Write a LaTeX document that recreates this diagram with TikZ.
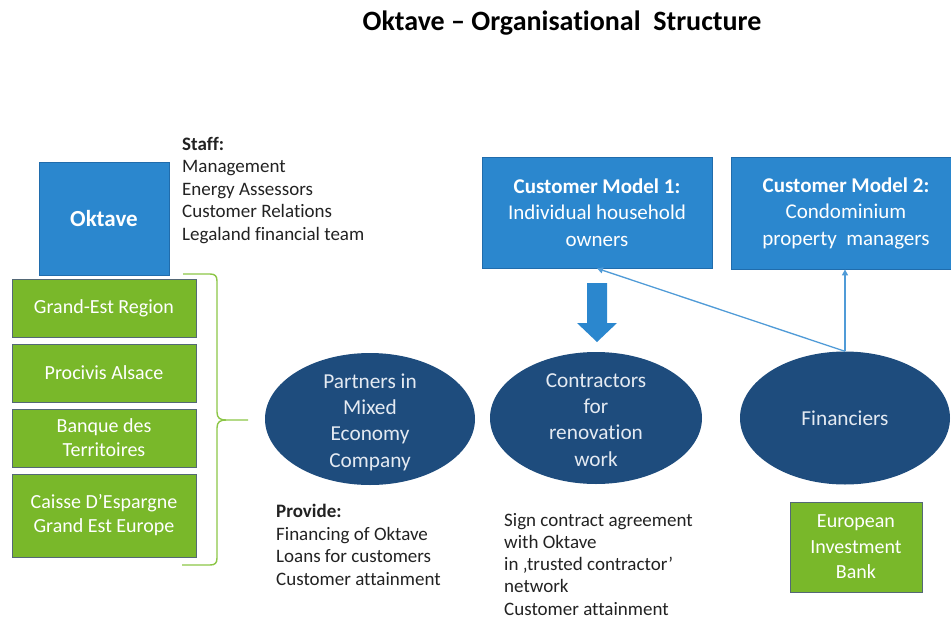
\documentclass[tikz,border=0pt]{standalone}
\usepackage{fontspec}
\setmainfont{Carlito}[Ligatures=NoCommon]
\usetikzlibrary{arrows.meta,shapes.geometric}

\definecolor{okblue}{RGB}{43,135,206}
\definecolor{okblueedge}{RGB}{32,108,172}
\definecolor{navy}{RGB}{30,76,125}
\definecolor{leaf}{RGB}{121,184,42}
\definecolor{leafedge}{RGB}{84,104,118}
\definecolor{bracegreen}{RGB}{140,198,70}
\definecolor{linkblue}{RGB}{80,155,215}
\definecolor{ink}{RGB}{34,34,34}
\definecolor{ovaltext}{RGB}{228,234,242}

\newcommand\fsz[2]{\fontsize{#1}{#2}\selectfont}

\tikzset{
  bluebox/.style={draw=okblueedge, line width=0.8pt, fill=okblue, text=white,
    align=center, inner sep=0pt, font=\fsz{21}{26.5}},
  leafbox/.style={draw=leafedge, line width=1pt, fill=leaf, text=white,
    align=center, inner sep=0pt, minimum width=184pt, font=\fsz{20}{24}},
  oval/.style={ellipse, fill=navy, draw=none, inner sep=0pt},
  ovallabel/.style={text=ovaltext, align=center, inner sep=0pt,
    font=\fsz{21.3}{26.3}},
  note/.style={anchor=north west, align=left, inner sep=0pt, text=ink,
    font=\fsz{19}{22.5}},
  link/.style={draw=linkblue, line width=1.3pt},
  bracket/.style={draw=bracegreen, line width=1.4pt},
}

\begin{document}
\begin{tikzpicture}[x=1pt,y=-1pt]
\useasboundingbox (0,0) rectangle (951,619);

% heading
\node[font=\bfseries\fsz{28}{33}, text=black] (title) at (562,23)
  {Oktave – Organisational\ \ Structure};

% Oktave and its staff
\node[bluebox, minimum width=130pt, minimum height=113pt, font=\bfseries\fsz{23}{28}]
  (oktave) at (104,218.5) {Oktave};
\node[note] (staff) at (182,137)
  {\textbf{Staff:}\\Management\\Energy Assessors\\Customer Relations\\Legaland financial team};

% shareholders
\node[leafbox, minimum height=58pt] (g1) at (104,308) {Grand-Est Region};
\node[leafbox, minimum height=58pt] (g2) at (104,373) {Procivis Alsace};
\node[leafbox, minimum height=58pt] (g3) at (104,438) {Banque des\\Territoires};
\node[leafbox, minimum height=83pt] (g4) at (104,515.5) {Caisse D’Espargne\\Grand Est Europe};

% bracket grouping the shareholders
\coordinate (btop) at (183,274);
\coordinate (btip) at (248,420);
\coordinate (bbot) at (182,565);
\draw[bracket] (btop) -- (210,274) .. controls (215,274) and (217,276) .. (217,281)
  -- (217,412) .. controls (217,418) and (220,420) .. (226,420) -- (btip);
\draw[bracket] (226,420) .. controls (220,420) and (217,422) .. (217,428)
  -- (217,558) .. controls (217,563) and (215,565) .. (210,565) -- (bbot);

% customer models
\node[bluebox, minimum width=230pt, minimum height=111pt] (cm1) at (597,212.5)
  {\textbf{Customer Model 1:}\\Individual household\\owners};
\node[bluebox, minimum width=230pt, minimum height=112pt] (cm2) at (846,213)
  {\textbf{Customer Model 2:}\\Condominium\\property\ \ managers};

% stakeholder groups
\node[oval, minimum width=210pt, minimum height=132pt] (mixed) at (370,419) {};
\node[oval, minimum width=212pt, minimum height=132pt] (contr) at (596,418) {};
\node[oval, minimum width=210pt, minimum height=133pt] (fin) at (845,418) {};
\node[ovallabel] (mixedtext) at ([yshift=-3pt]mixed.center)
  {Partners in\\Mixed\\Economy\\Company};
\node[ovallabel] (contrtext) at ([yshift=-2pt]contr.center)
  {Contractors\\for\\renovation\\work};
\node[ovallabel] (fintext) at (fin.center) {Financiers};

\node[leafbox, minimum width=132pt, minimum height=90pt, font=\fsz{20}{25.5}]
  (eib) at (856,547) {European\\Investment\\Bank};

% block arrow from model 1 down to the contractors
\fill[okblue] (587,283) -- (607,283) -- (607,323) -- (617,323) -- (597,342)
  -- (577,323) -- (587,323) -- cycle;

% financier links
\draw[link, -{Triangle[width=6pt,length=6pt]}] (fin.north) -- (cm1.south);
\draw[link, -{Triangle[width=6pt,length=6pt]}] (fin.north) -- (fin.north |- cm2.south);

% descriptions
\node[note] (provide) at (276,504)
  {\textbf{Provide:}\\Financing of Oktave\\Loans for customers\\Customer attainment};
\node[note, font=\fsz{19}{22.2}] (sign) at (504,513)
  {Sign contract agreement\\with Oktave\\in ‚trusted contractor’\\network\\Customer attainment};
\end{tikzpicture}
\end{document}
